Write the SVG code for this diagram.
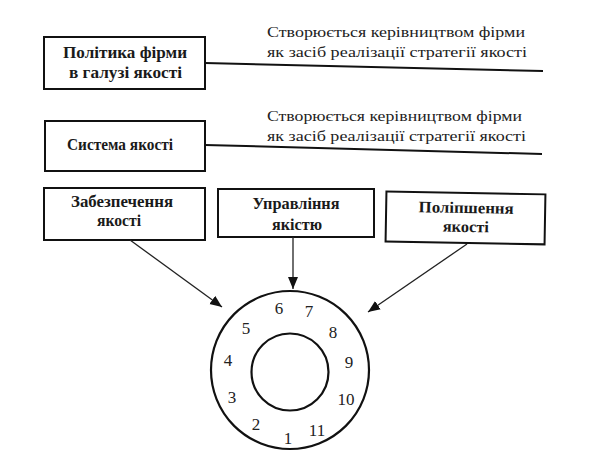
<svg xmlns="http://www.w3.org/2000/svg" width="589" height="466" viewBox="0 0 589 466">
<style>
.box{fill:#fff;stroke:#111;stroke-width:2}
.lbl{font-family:"Liberation Serif","Times New Roman",serif;font-size:16px;fill:#1a1a1a;text-anchor:middle;font-weight:bold}
.ann{font-family:"Liberation Serif","Times New Roman",serif;font-size:15.5px;fill:#222}
.num{font-family:"Liberation Serif","Times New Roman",serif;font-size:17px;fill:#222;text-anchor:middle}
.hl{stroke:#111;stroke-width:2;fill:none}
.ar{stroke:#222;stroke-width:1.3;fill:none;marker-end:url(#ah)}
.ring{fill:none;stroke:#111;stroke-width:2.2}
</style>
<defs>
<marker id="ah" markerUnits="userSpaceOnUse" markerWidth="12" markerHeight="12" viewBox="0 0 12 12" refX="12" refY="6" orient="auto">
<path d="M0,1 L12,6 L0,11 Z" fill="#111"/>
</marker>
</defs>
<rect width="589" height="466" fill="#fff"/>
<g id="policy">
<rect class="box" x="44" y="37" width="161" height="52"/>
<text class="lbl" x="125" y="58" textLength="124" lengthAdjust="spacingAndGlyphs">Політика фірми</text>
<text class="lbl" x="125.5" y="78" textLength="113" lengthAdjust="spacingAndGlyphs">в галузі якості</text>
</g>
<g id="note1">
<text class="ann" x="267" y="37" textLength="258" lengthAdjust="spacingAndGlyphs">Створюється керівництвом фірми</text>
<text class="ann" x="267" y="57" textLength="260" lengthAdjust="spacingAndGlyphs">як засіб реалізації стратегії якості</text>
</g>
<g id="system">
<rect class="box" x="45" y="121" width="160" height="50"/>
<text class="lbl" x="120" y="150" textLength="106" lengthAdjust="spacingAndGlyphs">Система якості</text>
</g>
<g id="note2">
<text class="ann" x="267" y="121" textLength="255" lengthAdjust="spacingAndGlyphs">Створюється керівництвом фірми</text>
<text class="ann" x="267" y="141" textLength="259" lengthAdjust="spacingAndGlyphs">як засіб реалізації стратегії якості</text>
</g>
<g id="assurance">
<rect class="box" x="44" y="188" width="161" height="52"/>
<text class="lbl" x="122" y="207" textLength="102" lengthAdjust="spacingAndGlyphs">Забезпечення</text>
<text class="lbl" x="119" y="226" textLength="44" lengthAdjust="spacingAndGlyphs">якості</text>
</g>
<g id="management">
<rect class="box" x="218" y="189" width="156" height="48"/>
<text class="lbl" x="296" y="209" textLength="87" lengthAdjust="spacingAndGlyphs">Управління</text>
<text class="lbl" x="297" y="230" textLength="50" lengthAdjust="spacingAndGlyphs">якістю</text>
</g>
<g id="improvement" transform="rotate(1 466 218)">
<rect class="box" x="386" y="193" width="159" height="50"/>
<text class="lbl" x="466" y="213" textLength="95" lengthAdjust="spacingAndGlyphs">Поліпшення</text>
<text class="lbl" x="466" y="232" textLength="46" lengthAdjust="spacingAndGlyphs">якості</text>
</g>
<g id="connectors">
<path class="hl" d="M205,63 L543,71"/>
<path class="hl" d="M205,145 L542,154"/>
<path class="ar" d="M130,240 L222,307"/>
<path class="ar" d="M293,237 L293,289"/>
<path class="ar" d="M467,244 L368,312"/>
</g>
<g id="wheel">
<circle class="ring" cx="290" cy="370" r="79"/>
<circle class="ring" cx="290" cy="372" r="38.5"/>
<text class="num" x="279" y="314">6</text>
<text class="num" x="309" y="317">7</text>
<text class="num" x="333" y="338">8</text>
<text class="num" x="246" y="334">5</text>
<text class="num" x="228" y="366">4</text>
<text class="num" x="349" y="368">9</text>
<text class="num" x="232" y="403">3</text>
<text class="num" x="346" y="405">10</text>
<text class="num" x="256" y="430">2</text>
<text class="num" x="317" y="436">11</text>
<text class="num" x="288" y="444">1</text>
</g>
</svg>
